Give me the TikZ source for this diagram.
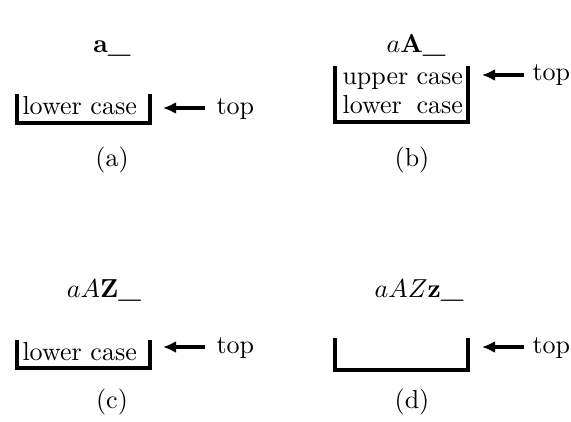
\documentclass[tikz,border=0pt]{standalone}
\usetikzlibrary{arrows.meta}
\begin{document}
\begin{tikzpicture}[x=0.3846pt,y=-0.3846pt,
  bar/.style={line width=1.2pt},
  ptr/.style={line width=1.3pt,{Latex[length=5pt,width=4.6pt]}-},
  lbl/.style={inner sep=0pt}]
\useasboundingbox (0,0) rectangle (571,421);
% (a)
\node[lbl,anchor=base] (ta) at (112,53) {\textbf{a\_}};
\coordinate (a1) at (17,94); \coordinate (a2) at (17,123);
\coordinate (a3) at (150,123); \coordinate (a4) at (150,94);
\draw[bar] (a1) -- (a2) -- (a3) -- (a4);
\node[lbl,anchor=base west] (la) at (22,114) {lower case};
\coordinate (pa1) at (163,108); \coordinate (pa2) at (205,108);
\draw[ptr] (pa1) -- (pa2);
\node[lbl,anchor=base west] (topa) at (216,114) {top};
\node[lbl,anchor=base] (ca) at (112,166) {(a)};
% (b)
\node[lbl,anchor=base] (tb) at (416,53) {$a$\textbf{A\_}};
\coordinate (b1) at (335,66); \coordinate (b2) at (335,122);
\coordinate (b3) at (468,122); \coordinate (b4) at (468,66);
\draw[bar] (b1) -- (b2) -- (b3) -- (b4);
\node[lbl,anchor=base west] (ub) at (342,84) {\makebox[46.3pt][s]{upper case}};
\node[lbl,anchor=base west] (lb) at (342,113) {\makebox[46.3pt][s]{lower case}};
\coordinate (pb1) at (482,75); \coordinate (pb2) at (524,75);
\draw[ptr] (pb1) -- (pb2);
\node[lbl,anchor=base west] (topb) at (532,81) {top};
\node[lbl,anchor=base] (cb) at (412,166) {(b)};
% (c)
\node[lbl,anchor=base] (tc) at (104,297) {$aA$\textbf{Z\_}};
\coordinate (c1) at (17,340); \coordinate (c2) at (17,368);
\coordinate (c3) at (150,368); \coordinate (c4) at (150,340);
\draw[bar] (c1) -- (c2) -- (c3) -- (c4);
\node[lbl,anchor=base west] (lc) at (22,360) {lower case};
\coordinate (pc1) at (163,347); \coordinate (pc2) at (205,347);
\draw[ptr] (pc1) -- (pc2);
\node[lbl,anchor=base west] (topc) at (216,353) {top};
\node[lbl,anchor=base] (cc) at (112,408) {(c)};
% (d)
\node[lbl,anchor=base] (td) at (419,297) {$aAZ$\textbf{z\_}};
\coordinate (d1) at (335,338); \coordinate (d2) at (335,370);
\coordinate (d3) at (468,370); \coordinate (d4) at (468,338);
\draw[bar] (d1) -- (d2) -- (d3) -- (d4);
\coordinate (pd1) at (482,347); \coordinate (pd2) at (524,347);
\draw[ptr] (pd1) -- (pd2);
\node[lbl,anchor=base west] (topd) at (532,353) {top};
\node[lbl,anchor=base] (cd) at (412,408) {(d)};
\end{tikzpicture}
\end{document}
